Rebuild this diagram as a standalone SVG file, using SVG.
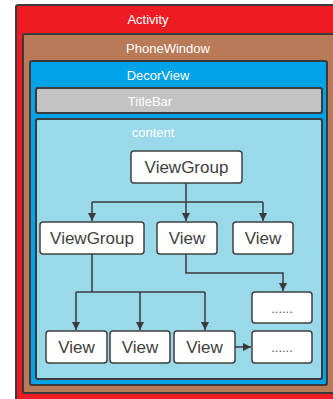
<svg xmlns="http://www.w3.org/2000/svg" width="333" height="399" viewBox="0 0 333 399">
  <style>
    .layer { stroke: #3a3a3a; stroke-width: 2; }
    .layer-label { font-family: "Liberation Sans", Arial, sans-serif; font-size: 13px; fill: #ffffff; text-anchor: middle; }
    .node rect { fill: #ffffff; stroke: #404040; stroke-width: 1.5; }
    .node text { font-family: "Liberation Sans", Arial, sans-serif; font-size: 17px; fill: #404040; text-anchor: middle; }
    .node text.dots { font-size: 13px; fill: #555555; }
    .edge { fill: none; stroke: #3a3a3a; stroke-width: 1.5; }
  </style>
  <defs>
    <marker id="arrow" viewBox="0 0 10 10" refX="10" refY="5" markerWidth="8" markerHeight="8" markerUnits="userSpaceOnUse" orient="auto">
      <path d="M0,0 L10,5 L0,10 z" fill="#3a3a3a"/>
    </marker>
  </defs>
  <rect width="333" height="399" fill="#ffffff"/>

  <!-- nested window layers -->
  <g id="activity">
    <rect class="layer" x="16" y="5" width="330" height="404" rx="2" fill="#ED1C24"/>
    <text class="layer-label" x="148" y="24">Activity</text>
  </g>
  <g id="phone-window">
    <rect class="layer" x="23" y="34" width="320" height="359" rx="2" fill="#B97A57"/>
    <text class="layer-label" x="168" y="53" fill="#f2f2f2">PhoneWindow</text>
  </g>
  <g id="decor-view">
    <rect class="layer" x="30" y="61" width="297" height="324" rx="2" fill="#00A2E8"/>
    <text class="layer-label" x="158" y="80">DecorView</text>
  </g>
  <g id="title-bar">
    <rect class="layer" x="36" y="88" width="286" height="25" rx="2" fill="#C3C3C3"/>
    <text class="layer-label" x="150" y="106">TitleBar</text>
  </g>
  <g id="content">
    <rect class="layer" x="36" y="119" width="286" height="260" rx="2" fill="#99D9EA"/>
    <text class="layer-label" x="153" y="137">content</text>
  </g>

  <!-- connectors -->
  <g id="connectors">
    <path class="edge" d="M186,183 V202"/>
    <path class="edge" d="M92,202 H263"/>
    <path class="edge" d="M92,202 V221" marker-end="url(#arrow)"/>
    <path class="edge" d="M186,202 V221" marker-end="url(#arrow)"/>
    <path class="edge" d="M263,202 V221" marker-end="url(#arrow)"/>
    <path class="edge" d="M92,254 V292"/>
    <path class="edge" d="M76,292 H205"/>
    <path class="edge" d="M76,292 V330" marker-end="url(#arrow)"/>
    <path class="edge" d="M140,292 V330" marker-end="url(#arrow)"/>
    <path class="edge" d="M205,292 V330" marker-end="url(#arrow)"/>
    <path class="edge" d="M186,254 V273 H283 V291" marker-end="url(#arrow)"/>
    <path class="edge" d="M235,347 H251" marker-end="url(#arrow)"/>
  </g>

  <!-- view hierarchy nodes -->
  <g id="root-viewgroup" class="node">
    <rect x="131" y="151" width="111" height="32" rx="3"/>
    <text x="186.5" y="173">ViewGroup</text>
  </g>
  <g id="child-viewgroup" class="node">
    <rect x="40" y="222" width="104" height="32" rx="3"/>
    <text x="92" y="244">ViewGroup</text>
  </g>
  <g id="child-view-1" class="node">
    <rect x="157" y="222" width="60" height="32" rx="3"/>
    <text x="187" y="244">View</text>
  </g>
  <g id="child-view-2" class="node">
    <rect x="233" y="222" width="60" height="32" rx="3"/>
    <text x="263" y="244">View</text>
  </g>
  <g id="more-1" class="node">
    <rect x="252" y="292" width="60" height="31" rx="3"/>
    <text class="dots" x="282" y="313">......</text>
  </g>
  <g id="leaf-view-1" class="node">
    <rect x="46" y="331" width="61" height="32" rx="3"/>
    <text x="76.5" y="353">View</text>
  </g>
  <g id="leaf-view-2" class="node">
    <rect x="110" y="331" width="60" height="32" rx="3"/>
    <text x="140" y="353">View</text>
  </g>
  <g id="leaf-view-3" class="node">
    <rect x="174" y="331" width="61" height="32" rx="3"/>
    <text x="204.5" y="353">View</text>
  </g>
  <g id="more-2" class="node">
    <rect x="252" y="331" width="60" height="32" rx="3"/>
    <text class="dots" x="282" y="352">......</text>
  </g>
</svg>
